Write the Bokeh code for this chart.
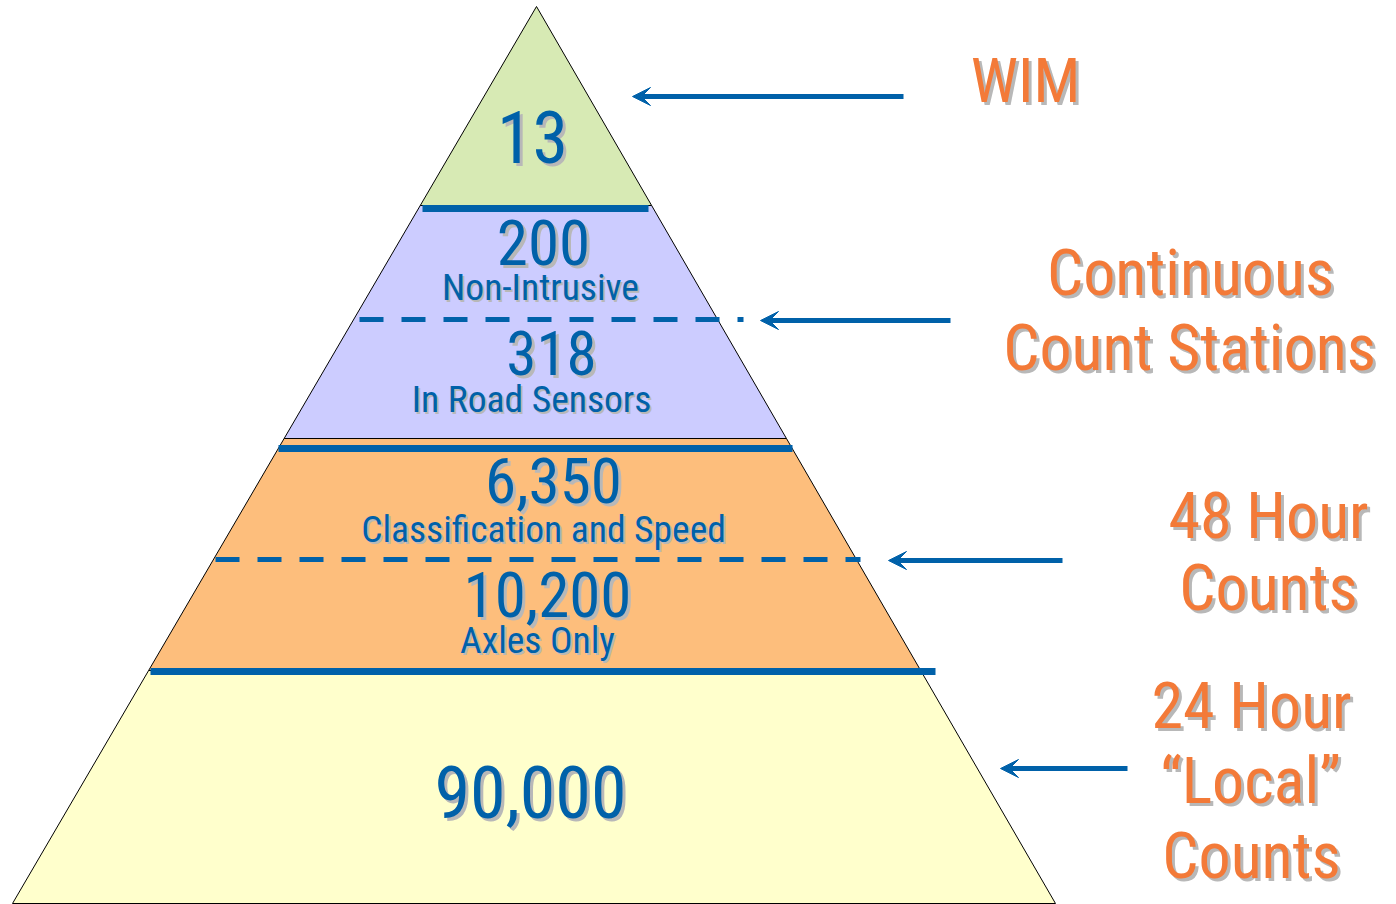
from bokeh.plotting import figure
from bokeh.models import Range1d, Arrow, VeeHead, ColumnDataSource
from bokeh.core.properties import value
from bokeh.embed import file_html
from bokeh.resources import INLINE

# ---------------- content ----------------
counts = ["13", "200", "318", "6,350", "10,200", "90,000"]
count_types = ["Non-Intrusive", "In Road Sensors", "Classification and Speed", "Axles Only"]
program_lines = ["WIM", "Continuous", "Count Stations", "48 Hour", "Counts",
                 "24 Hour", "\u201cLocal\u201d", "Counts"]

# ---------------- layout (screen-pixel coordinates) ----------------
apex = (536, 6)
base_y, base_left, base_right = 903, 12, 1055
band_edges = [6, 205, 438, 670, 903]
band_colors = ["#D7EAB4", "#CCCCFF", "#FDBE7C", "#FFFFCC"]

count_x = [532, 543, 551, 553, 547, 530]
count_y = [163, 265, 375, 503, 617, 818]
count_size = [72, 63, 61, 63, 63, 72]
type_x = [540, 531, 543, 537]
type_y = [300, 412, 542, 653]
type_size = [37.5, 37.5, 37.5, 37.5]

prog_x = [1025, 1190, 1189, 1268, 1268, 1251, 1250, 1251]
prog_y = [103, 297, 372, 540, 612, 730, 805, 880]
prog_size = [62, 64, 64, 64, 64, 64, 64, 64]

rule_y = [208, 448, 671]
rule_x0 = [422, 278, 150]
rule_x1 = [648, 792, 935]
dash_y = [319, 559]
dash_x0 = [359, 215]
dash_x1 = [743, 860]

arrow_y = [96, 320, 560, 768]
arrow_x0 = [903, 950, 1062, 1127]
arrow_x1 = [632, 760, 888, 1000]

BLUE = "#0061A9"
ORANGE = "#F37A38"
SHADOW = "#B8B8B8"
FONT = ("'Liberation Sans Narrow', 'Arial Narrow', 'Roboto Condensed', 'Noto Sans Condensed', "
        "'Open Sans Condensed', 'DejaVu Sans Condensed', 'Liberation Sans', sans-serif")
BASELINE_FIX = 0.37  # renderer places alphabetic baseline this many em lower

W, H = 1396, 904
p = figure(width=W, height=H, x_range=Range1d(0, W), y_range=Range1d(H, 0),
           output_backend="svg", toolbar_location=None, min_border=0,
           x_axis_location=None, y_axis_location=None)
p.grid.visible = False
p.outline_line_color = None
p.background_fill_color = "white"
p.border_fill_color = "white"


def edge_x(y, bx):
    return apex[0] + (bx - apex[0]) * (y - apex[1]) / (base_y - apex[1])


xs, ys = [], []
for t, b in zip(band_edges[:-1], band_edges[1:]):
    xs.append([edge_x(t, base_left), edge_x(t, base_right), edge_x(b, base_right), edge_x(b, base_left)])
    ys.append([t, t, b, b])
p.patches(xs, ys, fill_color=band_colors, line_color="black", line_width=1)

# thick separators
p.segment(rule_x0, rule_y, rule_x1, rule_y, line_color=BLUE, line_width=7)
# dashed separators
p.segment(dash_x0, dash_y, dash_x1, dash_y, line_color=BLUE, line_width=5, line_dash="24 18")

# arrows
src = ColumnDataSource(dict(x0=arrow_x0, x1=arrow_x1, y=arrow_y))
p.add_layout(Arrow(end=VeeHead(size=18, fill_color=BLUE, line_color=BLUE, line_width=1),
                   x_start="x0", y_start="y", x_end="x1", y_end="y", source=src,
                   line_color=BLUE, line_width=5))


def shadowed(x, y, text, color, sizes, off=2):
    yy = [b - BASELINE_FIX * s for b, s in zip(y, sizes)]
    fs = ["%gpx" % s for s in sizes]
    shadow = ColumnDataSource(dict(x=[v + off for v in x], y=[v + off for v in yy], t=text, fs=fs))
    main = ColumnDataSource(dict(x=x, y=yy, t=text, fs=fs))
    p.text("x", "y", text="t", source=shadow, text_color=SHADOW, text_font=value(FONT),
           text_font_size="fs", text_align="center", text_baseline="alphabetic")
    p.text("x", "y", text="t", source=main, text_color=color, text_font=value(FONT),
           text_font_size="fs", text_align="center", text_baseline="alphabetic")


shadowed(count_x, count_y, counts, BLUE, count_size, off=3)
shadowed(type_x, type_y, count_types, BLUE, type_size, off=2)
shadowed(prog_x, prog_y, program_lines, ORANGE, prog_size, off=3)

open("out.html", "w").write(file_html(p, INLINE))
